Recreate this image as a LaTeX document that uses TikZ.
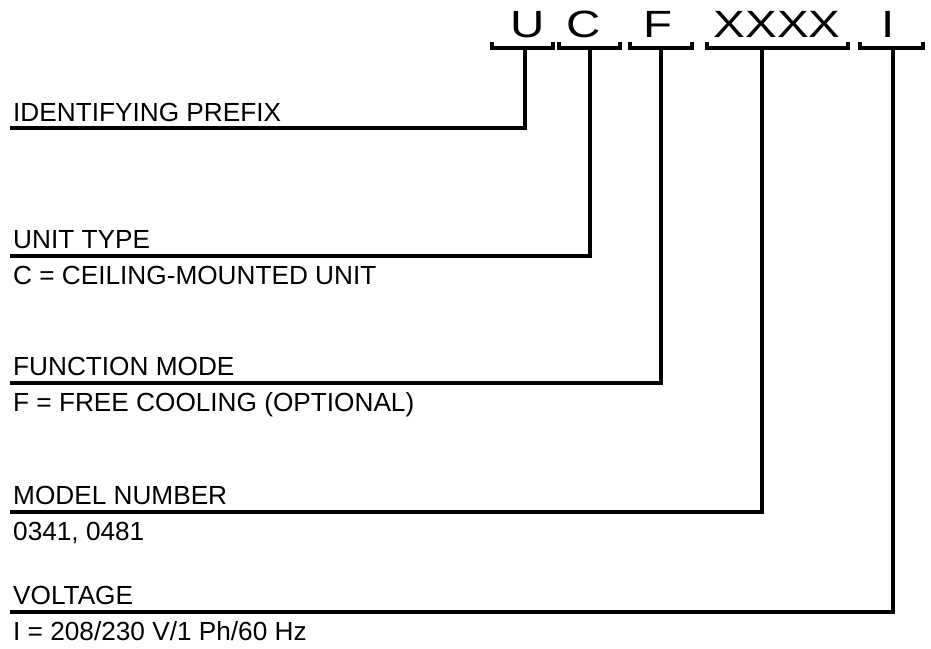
\documentclass[tikz,border=0pt]{standalone}
\usepackage{fontspec}
\setmainfont{Liberation Sans}
\usepackage{graphicx}
\begin{document}
\begin{tikzpicture}[x=1pt,y=-1pt,
  lbl/.style={anchor=base west,inner sep=0pt,font=\fontsize{26.2}{29}\selectfont},
  code/.style={anchor=base,inner sep=0pt,font=\fontsize{38}{42}\selectfont},
  wire/.style={line width=4.4pt,line join=miter,line cap=butt}]
\useasboundingbox (0,0) rectangle (931,648);
% code letters
\node[code] (cU) at (527.5,37) {\scalebox{1.25}[1]{U}};
\node[code] (cC) at (584,37) {\scalebox{1.25}[1]{C}};
\node[code] (cF) at (658,37) {\scalebox{1.25}[1]{F}};
\node[code] (cX) at (777,37) {\scalebox{1.25}[1]{XXXX}};
\node[code] (cI) at (888,37) {\scalebox{1.25}[1]{I}};
% brackets
\draw[wire] (492,42) -- (492,48) -- (553,48) -- (553,42);
\draw[wire] (559,42) -- (559,48) -- (620,48) -- (620,42);
\draw[wire] (630,42) -- (630,48) -- (692,48) -- (692,42);
\draw[wire] (707,42) -- (707,48) -- (848,48) -- (848,42);
\draw[wire] (860,42) -- (860,48) -- (923,48) -- (923,42);
% stem tops
\coordinate (sU) at (525,48);
\coordinate (sC) at (590,48);
\coordinate (sF) at (661,48);
\coordinate (sX) at (762,48);
\coordinate (sI) at (893,48);
% line left ends
\coordinate (eU) at (10,128);
\coordinate (eC) at (10,256);
\coordinate (eF) at (10,383);
\coordinate (eX) at (10,512);
\coordinate (eI) at (10,612);
% labels
\node[lbl] (lU) at (13,121) {IDENTIFYING PREFIX};
\node[lbl] (lC) at (13,248) {UNIT TYPE};
\node[lbl] (vC) at (13,284) {C = CEILING-MOUNTED UNIT};
\node[lbl] (lF) at (13,375) {FUNCTION MODE};
\node[lbl] (vF) at (13,411) {F = FREE COOLING (OPTIONAL)};
\node[lbl] (lX) at (13,504) {MODEL NUMBER};
\node[lbl] (vX) at (13,540) {0341, 0481};
\node[lbl] (lI) at (13,604) {VOLTAGE};
\node[lbl] (vI) at (13,640) {I = 208/230 V/1 Ph/60 Hz};
% connectors
\draw[wire] (sU) |- (eU);
\draw[wire] (sC) |- (eC);
\draw[wire] (sF) |- (eF);
\draw[wire] (sX) |- (eX);
\draw[wire] (sI) |- (eI);
\end{tikzpicture}
\end{document}
